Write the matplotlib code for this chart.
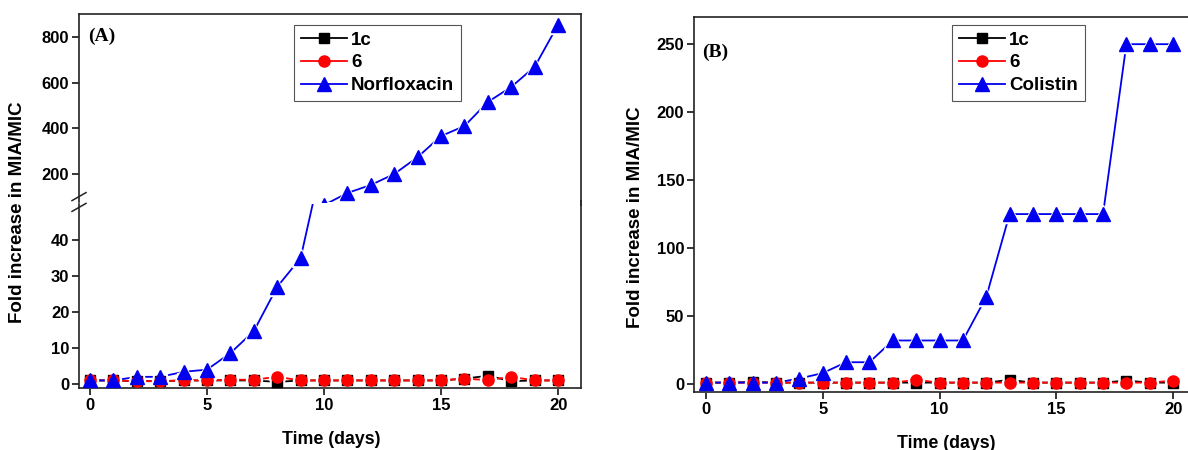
import matplotlib
matplotlib.use("Agg")
import matplotlib.pyplot as plt
from matplotlib.lines import Line2D

days = list(range(21))

# panel A
a_1c = [1, 1, 0.8, 0.8, 1, 1, 1, 1, 0.6, 1, 1, 1, 1, 1, 1, 1, 1.5, 2.3, 0.8, 1, 1]
a_6 = [1, 1, 0.8, 0.8, 1, 1, 1.2, 1.2, 2, 1, 1, 1, 1, 1, 1, 1, 1.5, 1.1, 2, 1, 1]
a_norflox = [1, 1, 2, 2, 3.4, 4, 8.6, 14.7, 27, 35, 64, 117, 152, 200, 274,
             366, 410, 515, 581, 669, 853]

# panel B
b_1c = [1, 1, 1.5, 1, 1, 1, 1, 1, 1, 1, 1, 1, 1, 3, 1, 1, 1, 1, 2.5, 1, 1]
b_6 = [1, 1, 1, 1, 1, 1, 1, 1, 1, 3, 1, 1, 1, 1, 1, 1, 1, 1, 1, 1, 2.5]
b_colistin = [1, 1, 1, 1, 4, 8, 16, 16, 32, 32, 32, 32, 64, 125, 125, 125,
              125, 125, 250, 250, 250]

labels_a = ["1c", "6", "Norfloxacin"]
labels_b = ["1c", "6", "Colistin"]
colors = ["black", "#ff0000", "#0000ee"]
markers = ["s", "o", "^"]
msizes = [7, 8, 10]

plt.rcParams["font.family"] = ["Liberation Sans", "DejaVu Sans"]
plt.rcParams["font.weight"] = "bold"

W, H = 1188, 450
fig = plt.figure(figsize=(W / 100, H / 100), dpi=100)


def px_axes(left, top, right, bottom):
    return fig.add_axes([left / W, 1 - bottom / H, (right - left) / W, (bottom - top) / H])


def style(ax):
    for s in ax.spines.values():
        s.set_linewidth(1.2)
        s.set_color("#222222")
    ax.tick_params(direction="out", length=5, width=1.1, labelsize=12, pad=2,
                   top=False, right=False)
    for t in ax.get_xticklabels() + ax.get_yticklabels():
        t.set_fontweight("bold")


def draw(ax, series):
    for y, c, m, ms in series:
        ax.plot(days, y, "-", color=c, lw=1.3, zorder=1)
        ax.plot(days, y, m, color="white", ms=ms + 3.5, ls="none", zorder=2)
        ax.plot(days, y, m, color=c, ms=ms, ls="none", zorder=3)


def legend(ax, labels, x, y):
    handles = [Line2D([], [], color=c, marker=m, ms=ms, lw=1.3)
               for c, m, ms in zip(colors, markers, msizes)]
    leg = ax.legend(handles, labels, loc="upper left", bbox_to_anchor=(x / W, 1 - y / H),
                    bbox_transform=fig.transFigure, fancybox=False, framealpha=1,
                    edgecolor="#555555", handlelength=2.5, handletextpad=0.2,
                    labelspacing=0.3, borderpad=0.35, borderaxespad=0,
                    prop={"weight": "bold", "size": 13.5})
    leg.get_frame().set_linewidth(0.8)
    leg.set_zorder(5)


xlim = (-0.47, 20.98)

# ---- panel A, broken y axis
ax_top = px_axes(79, 14, 581, 202)
ax_bot = px_axes(79, 204, 581, 388)
sa = list(zip([a_1c, a_6, a_norflox], colors, markers, msizes))
draw(ax_top, sa)
draw(ax_bot, sa)
ax_top.set_xlim(*xlim)
ax_bot.set_xlim(*xlim)
ax_top.set_ylim(77.5, 900)
ax_bot.set_ylim(-1.1, 50)
ax_top.set_yticks([200, 400, 600, 800])
ax_bot.set_yticks([0, 10, 20, 30, 40])
ax_bot.set_xticks([0, 5, 10, 15, 20])
ax_top.set_xticks([])
ax_top.spines["bottom"].set_visible(False)
ax_bot.spines["top"].set_visible(False)
style(ax_top)
style(ax_bot)
ax_top.patch.set_alpha(0)
ax_bot.patch.set_alpha(0)
# continuous right spine across the break
fig.add_artist(Line2D([581 / W, 581 / W], [1 - 205 / H, 1 - 201 / H],
                      color="#222222", lw=1.2))
# break marks on the left spine
for dy in (-0.012, 0.012):
    fig.add_artist(Line2D([72 / W, 86 / W], [1 - 206 / H + dy, 1 - 198 / H + dy],
                          color="#222222", lw=1.1))
ax_top.text(0.018, 0.88, "(A)", transform=ax_top.transAxes, fontsize=14,
            fontweight="bold", family="Liberation Serif", va="center")
legend(ax_top, labels_a, 294, 25)

fig.text(18 / W, 1 - 212 / H, "Fold increase in MIA/MIC", rotation=90,
         ha="center", va="center", fontsize=13.5, fontweight="bold")
fig.text(331 / W, 1 - 439 / H, "Time (days)", ha="center", va="center",
         fontsize=12.8, fontweight="bold")

# ---- panel B
ax_b = px_axes(694, 17, 1196, 392)
draw(ax_b, list(zip([b_1c, b_6, b_colistin], colors, markers, msizes)))
ax_b.set_xlim(-0.51, 20.98)
ax_b.set_ylim(-5.9, 270)
ax_b.set_yticks([0, 50, 100, 150, 200, 250])
ax_b.set_xticks([0, 5, 10, 15, 20])
style(ax_b)
ax_b.text(0.016, 0.905, "(B)", transform=ax_b.transAxes, fontsize=14,
          fontweight="bold", family="Liberation Serif", va="center")
legend(ax_b, labels_b, 952, 25)

fig.text(635 / W, 1 - 217 / H, "Fold increase in MIA/MIC", rotation=90,
         ha="center", va="center", fontsize=13.5, fontweight="bold")
fig.text(946 / W, 1 - 443 / H, "Time (days)", ha="center", va="center",
         fontsize=12.8, fontweight="bold")

fig.savefig("out.png", dpi=100)
